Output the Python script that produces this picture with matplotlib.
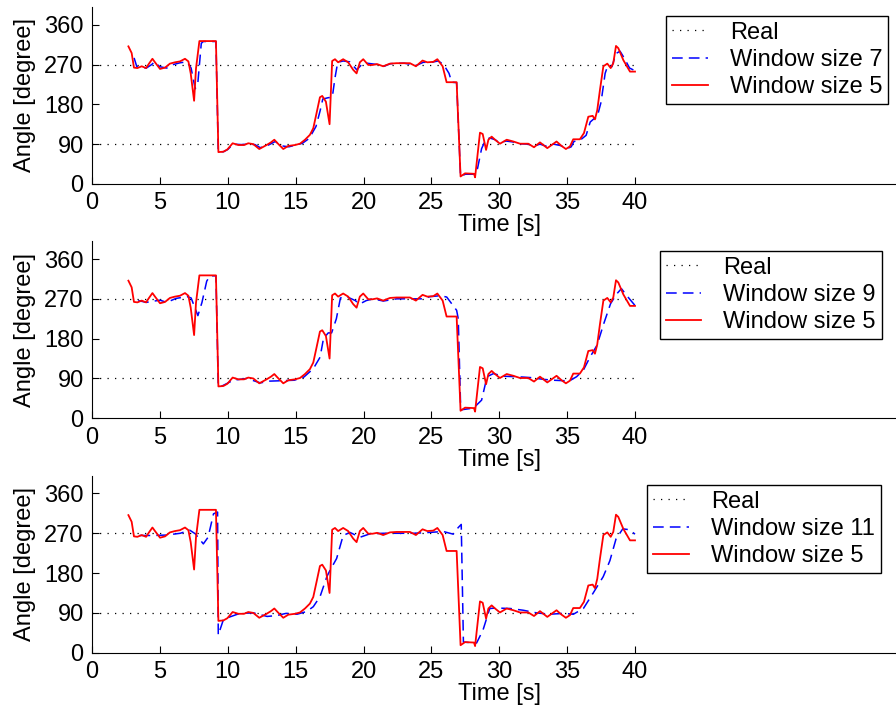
import numpy as np
import matplotlib
matplotlib.use("Agg")
import matplotlib.pyplot as plt

plt.rcParams["font.family"] = ["Liberation Sans", "DejaVu Sans"]

# --- data ---
# window size 5 (same curve in every panel)
t_w5 = [2.68, 2.92, 3.09, 3.34, 3.66, 3.98, 4.22, 4.45, 4.64, 5.01, 5.38, 5.74, 6.11, 6.48, 6.85,
        7.10, 7.27, 7.52, 7.66, 7.91, 9.13, 9.31, 9.68, 9.97, 10.36, 10.78, 11.2, 11.51, 11.88,
        12.32, 12.86, 13.18, 13.43, 13.67, 14.09, 14.46, 14.95, 15.32, 15.69, 16.05, 16.3, 16.54,
        16.79, 16.96, 17.23, 17.5, 17.69, 17.9, 18.13, 18.5, 18.87, 19.24, 19.49, 19.73, 19.98,
        20.35, 20.67, 21.0, 21.45, 21.95, 22.44, 23.42, 23.86, 24.35, 24.7, 25.14, 25.44, 25.83,
        26.12, 26.86, 27.15, 27.48, 28.14, 28.22, 28.58, 28.78, 29.03, 29.2, 29.44, 29.69, 30.05,
        30.55, 31.04, 31.53, 32.14, 32.56, 33.0, 33.54, 34.22, 34.59, 34.91, 35.21, 35.45, 35.94,
        36.24, 36.56, 36.88, 37.05, 37.22, 37.42, 37.67, 37.96, 38.21, 38.4, 38.6, 38.77, 39.14,
        39.63, 40.0]
a_w5 = [311, 296, 263, 262, 266, 262, 273, 283, 275, 260, 263, 272, 275, 277, 283,
        277, 250, 188, 261, 323, 323, 72, 73, 78, 92, 88, 88, 92, 90,
        79, 88, 94, 100, 92, 79, 86, 88, 91, 100, 111, 126, 160,
        196, 199, 186, 135, 278, 282, 275, 282, 275, 258, 250, 275, 282,
        269, 269, 271, 266, 272, 273, 273, 266, 279, 275, 276, 282, 266,
        230, 230, 17, 24, 23, 15, 116, 113, 77, 100, 107, 100, 91,
        100, 96, 91, 91, 83, 94, 81, 96, 86, 79, 85, 101, 101,
        115, 152, 154, 146, 167, 213, 266, 272, 262, 273, 312, 307, 280,
        254, 254]

# window size 7
t_w7 = [3.1, 3.3, 4.0, 4.4, 4.6, 5.0, 5.5, 6.0, 6.5, 7.0, 7.3, 7.6, 7.8, 8.05, 8.2, 9.13, 9.3,
        9.7, 10.0, 10.4, 11.0, 11.5, 12.0, 12.4, 13.0, 13.5, 14.0, 14.5, 15.0, 15.5, 16.0, 16.5,
        16.8, 17.0, 17.4, 17.7, 17.9, 18.1, 18.5, 19.0, 19.5, 20.0, 20.5, 21.0, 21.5, 22.0, 23.0,
        23.9, 24.4, 25.0, 25.5, 25.9, 26.3, 26.5, 26.86, 27.15, 27.5, 28.1, 28.4, 28.7, 29.0,
        29.3, 29.7, 30.0, 30.5, 31.0, 31.5, 32.1, 32.6, 33.0, 33.5, 34.0, 34.5, 35.0, 35.3, 35.5,
        36.0, 36.4, 36.7, 37.0, 37.2, 37.5, 37.8, 38.0, 38.3, 38.6, 38.9, 39.2, 39.6, 40.0]
a_w7 = [285, 265, 262, 270, 276, 265, 262, 270, 274, 276, 262, 215, 230, 318, 322, 322, 72,
        73, 78, 90, 89, 90, 89, 82, 88, 96, 86, 84, 88, 92, 103, 130,
        165, 192, 195, 196, 240, 275, 278, 276, 258, 274, 272, 270, 266, 272, 273,
        268, 275, 275, 278, 270, 250, 230, 229, 17, 22, 22, 35, 80, 100,
        104, 100, 93, 97, 95, 91, 90, 86, 90, 85, 90, 87, 80, 84, 96,
        100, 110, 140, 148, 150, 185, 250, 268, 265, 295, 300, 285, 262, 256]

# window size 9
t_w9 = [3.4, 4.0, 5.0, 5.5, 6.2, 7.0, 7.3, 7.8, 8.1, 8.45, 8.7, 9.13, 9.3, 9.45, 9.9, 10.4,
        11.4, 12.4, 13.1, 14.1, 14.9, 15.6, 16.3, 16.8, 17.05, 17.4, 17.65, 18.0, 18.3, 18.75,
        19.4, 19.7, 20.2, 20.7, 21.46, 22.45, 23.7, 24.4, 24.9, 25.67, 26.13, 26.86, 26.98,
        27.16, 28.1, 28.7, 29.1, 29.57, 30.3, 31.3, 32.3, 33.25, 34.0, 34.7, 35.2, 35.7, 36.2,
        36.7, 37.2, 37.7, 38.2, 38.65, 39.0, 39.4, 40.0]
a_w9 = [266, 262, 267, 262, 271, 275, 272, 232, 262, 310, 322, 322, 72, 71, 78, 86,
        90, 80, 84, 85, 86, 93, 112, 138, 180, 193, 193, 225, 272, 275,
        266, 258, 266, 270, 265, 270, 270, 270, 275, 277, 274, 244, 225,
        19, 23, 41, 94, 101, 95, 94, 92, 88, 86, 85, 85, 94, 109,
        139, 165, 214, 259, 281, 293, 277, 255]

# window size 11
t_w11 = [3.5, 4.5, 5.5, 6.5, 7.2, 7.6, 8.2, 8.55, 8.95, 9.25, 9.3, 9.67, 10.16, 10.9, 11.9,
         12.9, 13.6, 14.3, 15.1, 15.8, 16.3, 16.8, 17.3, 17.53, 18.02, 18.5, 19.0, 19.74, 20.5,
         21.46, 22.45, 23.7, 24.9, 25.88, 26.61, 26.98, 27.2, 27.36, 28.33, 28.8, 29.3, 29.8,
         30.8, 31.77, 32.76, 33.74, 34.72, 35.46, 36.2, 36.9, 37.66, 38.15, 38.6, 39.1, 39.6, 40.0]
a_w11 = [265, 265, 266, 270, 277, 269, 246, 261, 314, 318, 40, 74, 81, 89, 90,
         82, 84, 89, 87, 93, 104, 127, 172, 186, 213, 265, 272, 261, 269,
         270, 270, 270, 272, 274, 268, 283, 290, 24, 22, 51, 100, 101,
         100, 96, 90, 87, 89, 87, 100, 134, 172, 208, 257, 280, 278, 268]

# real angle levels
t_real = [0, 40, np.nan, 0, 40]
a_real = [270, 270, np.nan, 90, 90]

panels = [
    (t_w7, a_w7, "Window size 7", 0.7427, (0.705, 0.951)),
    (t_w9, a_w9, "Window size 9", 0.415, (0.697, 0.947)),
    (t_w11, a_w11, "Window size 11", 0.0871, (0.682, 0.949)),
]

fig = plt.figure(figsize=(8.96, 7.15), dpi=100)
fs = 17

for t_b, a_b, lab, bottom, leg_pos in panels:
    ax = fig.add_axes([0.1027, bottom, 0.909, 0.2475])
    ax.plot(t_real, a_real, color="black", lw=0.9, linestyle=(0, (1, 5)), label="Real")
    ax.plot(t_b, a_b, color="blue", lw=1.1, dashes=(7, 4), label=lab)
    ax.plot(t_w5, a_w5, color="red", lw=1.3, label="Window size 5")

    ax.set_xlim(0, 60)
    ax.set_ylim(0, 400)
    ax.set_xticks(np.arange(0, 41, 5))
    ax.set_yticks([0, 90, 180, 270, 360])
    ax.spines["top"].set_visible(False)
    ax.spines["right"].set_visible(False)
    ax.tick_params(direction="in", length=5, width=0.8, labelsize=fs, pad=6)
    ax.set_xlabel("Time [s]", fontsize=fs, labelpad=0)
    ax.set_ylabel("Angle [degree]", fontsize=fs, labelpad=6)

    leg = ax.legend(loc="upper left", bbox_to_anchor=leg_pos, borderaxespad=0,
                    fontsize=fs, fancybox=False, framealpha=1, edgecolor="black",
                    handlelength=1.5, handletextpad=0.95, labelspacing=0.22, borderpad=0.25)
    leg.get_frame().set_linewidth(1.0)

fig.savefig("out.png", dpi=100, facecolor="white")
